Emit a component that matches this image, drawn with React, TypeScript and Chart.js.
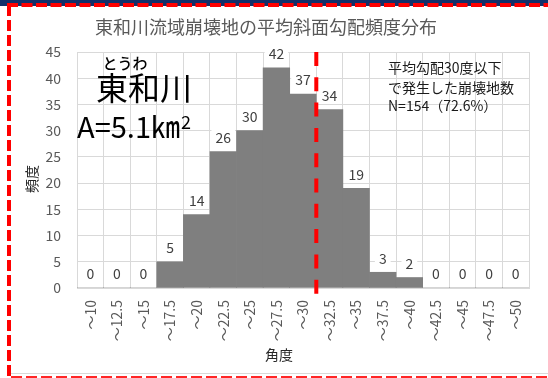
import React, { useEffect, useRef } from "react";
import Chart from "chart.js/auto";

const categories = ["～10", "～12.5", "～15", "～17.5", "～20", "～22.5", "～25", "～27.5", "～30", "～32.5", "～35", "～37.5", "～40", "～42.5", "～45", "～47.5", "～50"];
const counts = [0, 0, 0, 5, 14, 26, 30, 42, 37, 34, 19, 3, 2, 0, 0, 0, 0];
const yMin = 0;
const yMax = 45;
const yStep = 5;
const thresholdIndex = 8; // line drawn after "～30"
const titleText = "東和川流域崩壊地の平均斜面勾配頻度分布";
const yTitle = "頻度";
const xTitle = "角度";
const noteLines = ["平均勾配30度以下", "で発生した崩壊地数", "N=154（72.6%）"];
const rubyText = "とうわ";
const riverName = "東和川";
const areaText = "A=5.1㎞";
const areaSup = "2";

const FONT = "'Noto Sans CJK JP', 'Noto Sans', sans-serif";

const overlayPlugin = {
  id: "overlay",
  beforeDraw(chart: any) {
    const ctx = chart.ctx;
    ctx.save();
    ctx.fillStyle = "#ffffff";
    ctx.fillRect(0, 0, chart.width, chart.height);
    ctx.restore();
  },
  afterDatasetsDraw(chart: any) {
    const ctx = chart.ctx;
    const meta = chart.getDatasetMeta(0);
    ctx.save();
    ctx.font = `14px ${FONT}`;
    ctx.textAlign = "center";
    ctx.textBaseline = "middle";
    meta.data.forEach((bar: any, i: number) => {
      const txt = String(counts[i]);
      const w = ctx.measureText(txt).width;
      const cy = bar.y - 14.5;
      ctx.fillStyle = "#ffffff";
      ctx.fillRect(bar.x - w / 2 - 4, cy - 8, w + 8, 16);
      ctx.fillStyle = "#404040";
      ctx.fillText(txt, bar.x, cy + 0.5);
    });
    ctx.restore();
  },
  afterDraw(chart: any) {
    const ctx = chart.ctx;
    const xs = chart.scales.x;
    const area = chart.chartArea;
    ctx.save();

    // threshold red dashed line
    const lx = (xs.getPixelForValue(thresholdIndex) + xs.getPixelForValue(thresholdIndex + 1)) / 2;
    ctx.strokeStyle = "#ff0000";
    ctx.lineWidth = 4;
    ctx.setLineDash([14, 11.3]);
    ctx.beginPath();
    ctx.moveTo(lx, area.top);
    ctx.lineTo(lx, area.bottom + 9);
    ctx.stroke();
    ctx.setLineDash([]);

    // title
    ctx.fillStyle = "#595959";
    ctx.font = `18px ${FONT}`;
    ctx.textAlign = "center";
    ctx.textBaseline = "middle";
    ctx.fillText(titleText, 266, 27.5);

    // axis titles
    ctx.fillStyle = "#262626";
    ctx.font = `14px ${FONT}`;
    ctx.fillText(xTitle, 279, 355);
    ctx.save();
    ctx.translate(31.5, 179);
    ctx.rotate(-Math.PI / 2);
    ctx.fillText(yTitle, 0, 0);
    ctx.restore();

    // river annotation
    ctx.fillStyle = "#000000";
    ctx.font = `500 15px ${FONT}`;
    ctx.fillText(rubyText, 125, 63);
    ctx.font = `32px ${FONT}`;
    ctx.fillText(riverName, 144, 88);
    ctx.textAlign = "left";
    ctx.font = `29px ${FONT}`;
    ctx.fillText(areaText, 77, 127);
    const aw = ctx.measureText(areaText).width;
    ctx.font = `18px ${FONT}`;
    ctx.fillText(areaSup, 77 + aw + 1, 122);

    // note
    ctx.font = `14px ${FONT}`;
    ctx.fillStyle = "#1a1a1a";
    const ny = [68, 87.5, 105.5];
    noteLines.forEach((t, i) => ctx.fillText(t, 388, ny[i]));

    // frame
    ctx.fillStyle = "#12306a";
    ctx.fillRect(0, 0, chart.width, 6);
    ctx.strokeStyle = "#ff0000";
    ctx.lineWidth = 4;
    ctx.setLineDash([11, 3.5]);
    ctx.beginPath();
    ctx.moveTo(7, 5);
    ctx.lineTo(chart.width, 5);
    ctx.stroke();
    ctx.setLineDash([11, 4]);
    ctx.beginPath();
    ctx.moveTo(9, 5);
    ctx.lineTo(9, chart.height);
    ctx.stroke();
    ctx.setLineDash([]);
    ctx.strokeStyle = "#d9d9d9";
    ctx.lineWidth = 1;
    ctx.beginPath();
    ctx.moveTo(11, 373.5);
    ctx.lineTo(chart.width, 373.5);
    ctx.stroke();
    ctx.strokeStyle = "rgba(255,0,0,0.85)";
    ctx.lineWidth = 3;
    ctx.setLineDash([11, 4]);
    ctx.beginPath();
    ctx.moveTo(11, 377.5);
    ctx.lineTo(chart.width, 377.5);
    ctx.stroke();
    ctx.restore();
  },
};

export default function App() {
  const ref = useRef<HTMLCanvasElement | null>(null);
  useEffect(() => {
    if (!ref.current) return;
    const chart = new Chart(ref.current, {
      type: "bar",
      data: {
        labels: categories,
        datasets: [
          {
            data: counts,
            backgroundColor: "#7f7f7f",
            borderWidth: 0,
            barPercentage: 1,
            categoryPercentage: 1,
          },
        ],
      },
      options: {
        responsive: false,
        animation: false,
        devicePixelRatio: 1,
        layout: { padding: { left: 0, top: 52, right: 19, bottom: 0 } },
        plugins: { legend: { display: false }, tooltip: { enabled: false }, title: { display: false } },
        scales: {
          x: {
            grid: { color: "#d9d9d9", drawTicks: false, offset: true },
            border: { color: "#d9d9d9" },
            ticks: {
              maxRotation: 90,
              minRotation: 90,
              autoSkip: false,
              padding: 12,
              color: "#595959",
              font: { size: 14, family: FONT },
            },
            afterFit: (s: any) => {
              s.height = 90;
            },
          },
          y: {
            min: yMin,
            max: yMax,
            grid: { color: "#d9d9d9", drawTicks: false },
            border: { color: "#d9d9d9" },
            ticks: {
              stepSize: yStep,
              padding: 16,
              color: "#595959",
              font: { size: 14, family: FONT },
            },
            afterFit: (s: any) => {
              s.width = 77;
            },
          },
        },
      },
      plugins: [overlayPlugin],
    });
    return () => chart.destroy();
  }, []);
  return (
    <div style={{ position: "fixed", left: 0, top: 0, width: 548, height: 378 }}>
      <canvas ref={ref} width={548} height={378} style={{ width: 548, height: 378 }} />
    </div>
  );
}
